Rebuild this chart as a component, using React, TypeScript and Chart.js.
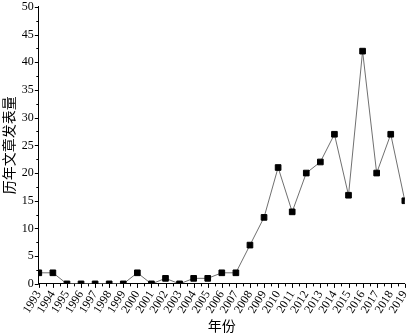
import React, { useEffect, useRef } from "react";
import { Chart, registerables } from "chart.js";

Chart.register(...registerables);

const years = [
  "1993", "1994", "1995", "1996", "1997", "1998", "1999", "2000", "2001",
  "2002", "2003", "2004", "2005", "2006", "2007", "2008", "2009", "2010",
  "2011", "2012", "2013", "2014", "2015", "2016", "2017", "2018", "2019",
];
const counts = [
  2, 2, 0, 0, 0, 0, 0, 2, 0, 1, 0, 1, 1, 2, 2, 7, 12, 21, 13, 20, 22, 27, 16,
  42, 20, 27, 15,
];
const yTitle = "历年文章发表量";
const xTitle = "年份";

const tickPlugin = {
  id: "minorTicks",
  afterDraw(chart: any) {
    const ctx = chart.ctx;
    const x = chart.scales.x;
    const y = chart.scales.y;
    ctx.save();
    ctx.strokeStyle = "#000";
    ctx.lineWidth = 1;
    ctx.beginPath();
    for (let v = 0; v <= 50; v += 2.5) {
      const py = Math.round(y.getPixelForValue(v)) + 0.5;
      const len = v % 5 === 0 ? 4 : 2.5;
      ctx.moveTo(x.left, py);
      ctx.lineTo(x.left - len, py);
    }
    const n = years.length;
    for (let i = 0; i < n; i++) {
      const px = Math.round(x.getPixelForValue(i)) + 0.5;
      ctx.moveTo(px, y.bottom);
      ctx.lineTo(px, y.bottom + 4);
      if (i < n - 1) {
        const pm =
          Math.round((x.getPixelForValue(i) + x.getPixelForValue(i + 1)) / 2) + 0.5;
        ctx.moveTo(pm, y.bottom);
        ctx.lineTo(pm, y.bottom + 2.5);
      }
    }
    ctx.stroke();
    ctx.restore();
  },
};

export default function App() {
  const ref = useRef<HTMLCanvasElement>(null);
  useEffect(() => {
    document.body.style.margin = "0";
    const chart = new Chart(ref.current!, {
      type: "line",
      data: {
        labels: years,
        datasets: [
          {
            data: counts,
            borderColor: "#707070",
            borderWidth: 1,
            pointStyle: "rect",
            pointRadius: 4,
            pointBackgroundColor: "#000",
            pointBorderColor: "#000",
            pointBorderWidth: 1,
            tension: 0,
            clip: 0,
          },
        ],
      },
      options: {
        animation: false,
        responsive: false,
        plugins: { legend: { display: false }, tooltip: { enabled: false } },
        layout: { padding: { top: 6, right: 5, left: 0, bottom: 1 } },
        scales: {
          x: {
            type: "category",
            offset: false,
            grid: { display: false, drawTicks: false },
            border: { display: true, color: "#000", width: 1 },
            ticks: {
              autoSkip: false,
              maxRotation: 58,
              minRotation: 58,
              padding: 5,
              color: "#000",
              font: { family: "Liberation Serif", size: 12, lineHeight: 1 },
            },
            title: {
              display: true,
              text: xTitle,
              color: "#000",
              font: { family: "Noto Sans CJK SC", size: 14, lineHeight: 1.1 },
              padding: { top: -3, bottom: 0 },
            },
          },
          y: {
            min: 0,
            max: 50,
            grid: { display: false, drawTicks: false },
            border: { display: true, color: "#000", width: 1 },
            ticks: {
              stepSize: 5,
              padding: 5,
              color: "#000",
              font: { family: "Liberation Serif", size: 12, lineHeight: 0.3 },
            },
            title: {
              display: true,
              text: yTitle,
              color: "#000",
              font: { family: "Noto Sans CJK SC", size: 14 },
              padding: { top: 0, bottom: 0 },
            },
          },
        },
      },
      plugins: [tickPlugin],
    });
    return () => chart.destroy();
  }, []);
  return (
    <div style={{ width: 420, height: 334, background: "#fff" }}>
      <canvas ref={ref} width={420} height={334} />
    </div>
  );
}
